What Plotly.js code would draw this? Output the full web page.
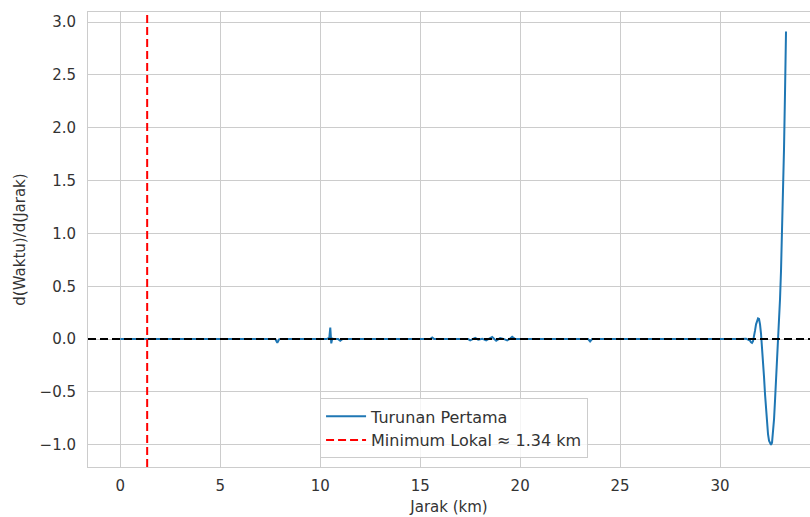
<!DOCTYPE html>
<html>
<head>
<meta charset="utf-8">
<script src="https://cdn.plot.ly/plotly-3.0.1.min.js"></script>
<style>html,body{margin:0;padding:0;background:#fff;}#chart{width:810px;height:517px;}</style>
</head>
<body>
<div id="chart"></div>
<script>
// Distance (km)
const distance = [0, 0.5, 1, 1.5, 2, 2.5, 3, 3.5, 4, 4.5, 5, 5.5, 6, 6.5, 7, 7.5, 7.75, 7.85, 7.95, 8.2, 8.6, 9.0, 9.5, 10.0, 10.3, 10.45, 10.5, 10.55, 10.6, 10.7, 10.9, 11.0, 11.1, 11.5, 12, 12.5, 13, 13.5, 14, 14.5, 15, 15.5, 15.6, 15.7, 16, 16.5, 17, 17.4, 17.5, 17.6, 17.75, 17.9, 18.1, 18.3, 18.45, 18.6, 18.8, 19.0, 19.2, 19.35, 19.5, 19.6, 19.75, 20, 20.5, 21, 21.5, 22, 22.5, 23, 23.4, 23.5, 23.6, 24, 24.5, 25, 25.5, 26, 26.5, 27, 27.5, 28, 28.5, 29, 29.5, 30, 30.5, 31, 31.3, 31.45, 31.5, 31.55, 31.6, 31.65, 31.7, 31.75, 31.8, 31.85, 31.9, 31.95, 32.0, 32.05, 32.1, 32.15, 32.2, 32.25, 32.3, 32.35, 32.4, 32.45, 32.5, 32.55, 32.6, 32.65, 32.7, 32.75, 32.8, 32.85, 32.9, 32.95, 33.0, 33.05, 33.1, 33.15, 33.2, 33.25, 33.3];
// First derivative d(Waktu)/d(Jarak)
const derivative = [0.002, 0.001, 0.0, 0.001, 0.0, 0.001, 0.0, 0.002, 0.0, 0.001, 0.0, 0.001, 0.0, 0.002, 0.0, 0.001, 0.0, -0.035, 0.0, 0.002, 0.0, 0.001, 0.0, 0.002, 0.0, 0.01, 0.11, -0.04, 0.005, 0.0, 0.0, -0.015, 0.0, 0.001, 0.0, 0.002, 0.0, 0.001, 0.0, 0.002, 0.0, 0.0, 0.015, 0.0, 0.001, 0.0, 0.002, 0.0, -0.012, 0.0, 0.012, -0.005, 0.004, -0.012, 0.006, 0.02, -0.015, 0.01, 0.0, -0.012, 0.005, 0.022, 0.0, 0.002, 0.0, 0.001, 0.0, 0.002, 0.0, 0.001, 0.0, -0.022, 0.0, 0.001, 0.0, 0.002, 0.0, 0.001, 0.0, 0.002, 0.0, 0.001, 0.0, 0.002, 0.0, 0.001, 0.0, 0.002, 0.004, -0.005, -0.015, -0.03, -0.035, -0.02, 0.02, 0.08, 0.14, 0.18, 0.195, 0.19, 0.14, 0.05, -0.06, -0.2, -0.36, -0.52, -0.67, -0.8, -0.9, -0.96, -0.99, -1.0, -0.98, -0.9, -0.76, -0.58, -0.4, -0.22, -0.04, 0.15, 0.38, 0.65, 0.98, 1.35, 1.8, 2.33, 2.91];
const localMinKm = [1.34];
const xTicks = [0, 5, 10, 15, 20, 25, 30];
const yTicks = [-1.0, -0.5, 0.0, 0.5, 1.0, 1.5, 2.0, 2.5, 3.0];
const xRange = [-1.62, 34.5];
const yRange = [-1.21, 3.095];

const font = "DejaVu Sans, sans-serif";
const fs = 15;
const col = '#333333';
const traces = [
  {
    x: distance, y: derivative, type: 'scatter', mode: 'lines',
    name: 'Turunan Pertama',
    line: {color: '#1f77b4', width: 2}
  },
  {
    x: [localMinKm[0], localMinKm[0]], y: yRange, type: 'scatter', mode: 'lines',
    name: 'Minimum Lokal ≈ ' + localMinKm[0].toFixed(2) + ' km',
    line: {color: '#ff0000', width: 2, dash: '8px,4px'}
  }
];
const layout = {
  width: 810, height: 517,
  margin: {l: 88, r: 0, t: 12, b: 50},
  paper_bgcolor: '#ffffff', plot_bgcolor: '#ffffff',
  font: {family: font, size: fs, color: col},
  showlegend: true,
  xaxis: {
    range: xRange, tickvals: xTicks, ticktext: xTicks.map(String),
    showgrid: true, gridcolor: '#cccccc', gridwidth: 1,
    zeroline: false, showline: true, mirror: true, linecolor: '#cccccc', linewidth: 1,
    ticks: '', ticklabelstandoff: 5,
    tickfont: {family: font, size: fs, color: col},
    title: {text: 'Jarak (km)', font: {family: font, size: fs, color: col}, standoff: 7}
  },
  yaxis: {
    range: yRange, tickvals: yTicks, ticktext: yTicks.map(v => (v < 0 ? '\u2212' : '') + Math.abs(v).toFixed(1)),
    showgrid: true, gridcolor: '#cccccc', gridwidth: 1,
    zeroline: false, showline: true, mirror: false, linecolor: '#cccccc', linewidth: 1,
    ticks: '', ticklabelstandoff: 8,
    tickfont: {family: font, size: fs, color: col},
    title: {text: 'd(Waktu)/d(Jarak)', font: {family: font, size: fs, color: col}, standoff: 10}
  },
  shapes: [
    {type: 'line', xref: 'paper', yref: 'y', x0: 0, x1: 1, y0: 0, y1: 0,
     line: {color: '#000000', width: 2, dash: '8px,4px'}, layer: 'above'}
  ],
  legend: {
    x: 0.507, xanchor: 'center', y: 0.019, yanchor: 'bottom',
    bgcolor: 'rgba(255,255,255,0.8)', bordercolor: '#cccccc', borderwidth: 1,
    font: {family: font, size: 16, color: col},
    itemwidth: 40, tracegroupgap: 2
  }
};
Plotly.newPlot('chart', traces, layout, {displayModeBar: false, staticPlot: true});
</script>
</body>
</html>
